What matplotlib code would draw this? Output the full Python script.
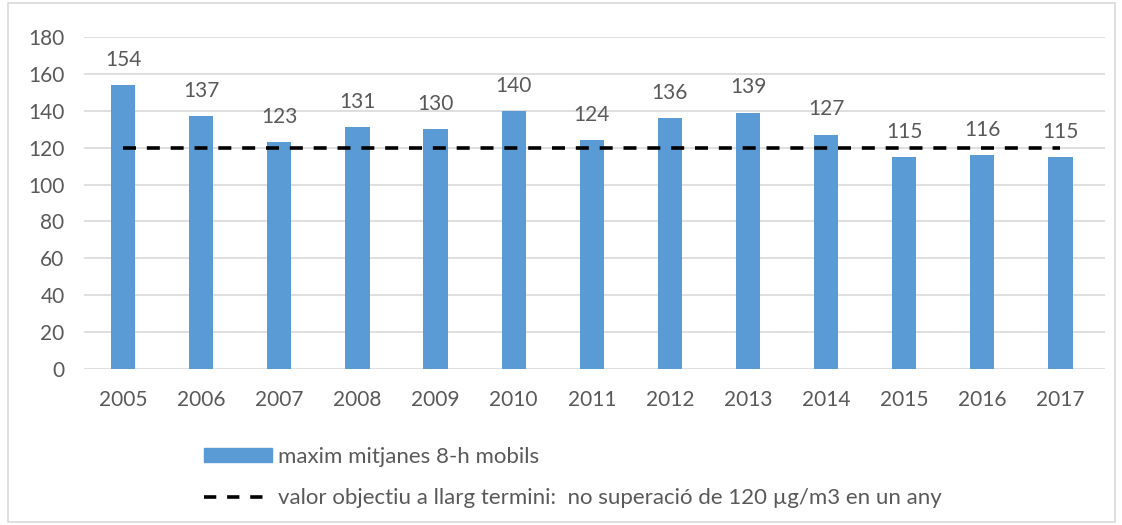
import numpy as np
import matplotlib.pyplot as plt
from matplotlib.patches import Rectangle
from matplotlib.lines import Line2D

years = ['2005', '2006', '2007', '2008', '2009', '2010', '2011',
         '2012', '2013', '2014', '2015', '2016', '2017']
max_8h = [154, 137, 123, 131, 130, 140, 124, 136, 139, 127, 115, 116, 115]
target = 120

plt.rcParams['font.family'] = ['Lato', 'DejaVu Sans']
txt_color = '#595959'
bar_color = '#5B9BD5'

fig = plt.figure(figsize=(11.22, 5.25), dpi=100)
ax = fig.add_axes([84 / 1122, 1 - 369 / 525, (1105 - 84) / 1122, (369 - 37) / 525])

x = np.arange(len(years))
ax.bar(x, max_8h, width=0.31, color=bar_color, zorder=2)
ax.plot([x[0], x[-1]], [target, target], color='black', lw=2.6,
        dashes=(3.6, 3.0), zorder=3)

for xi, v in zip(x, max_8h):
    ax.annotate(str(v), (xi, v), xytext=(0, 11), textcoords='offset points',
                ha='center', va='bottom', fontsize=15, color=txt_color)

ax.set_ylim(0, 180)
ax.set_yticks(range(0, 181, 20))
ax.set_xlim(-0.5, len(years) - 0.43)
ax.set_xticks(x)
ax.set_xticklabels(years)
ax.tick_params(axis='both', length=0, labelsize=15, labelcolor=txt_color)
ax.tick_params(axis='x', pad=15)
ax.tick_params(axis='y', pad=14)
ax.grid(axis='y', color='#d9d9d9', lw=1.2, zorder=0)
for s in ax.spines.values():
    s.set_visible(False)

# outer border of the chart area
fig.add_artist(Rectangle((8 / 1122, 3 / 525), 1107 / 1122, 519 / 525,
                         transform=fig.transFigure, fill=False,
                         edgecolor='#d9d9d9', lw=1.2))

handles = [Rectangle((0, 0), 1, 1, color=bar_color),
           Line2D([0], [0], color='black', lw=2.6, dashes=(3.4, 3.0))]
labels = ['maxim mitjanes 8-h mobils',
          'valor objectiu a llarg termini:  no superació de 120 µg/m3 en un any']
leg = fig.legend(handles, labels, loc='upper left',
                 bbox_to_anchor=(204 / 1122, 1 - 447 / 525), frameon=False,
                 borderpad=0, borderaxespad=0,
                 fontsize=16, labelspacing=0.95, handlelength=3.05,
                 handleheight=0.55, handletextpad=0.3)
for t in leg.get_texts():
    t.set_color(txt_color)

fig.savefig('out.png', dpi=100)
